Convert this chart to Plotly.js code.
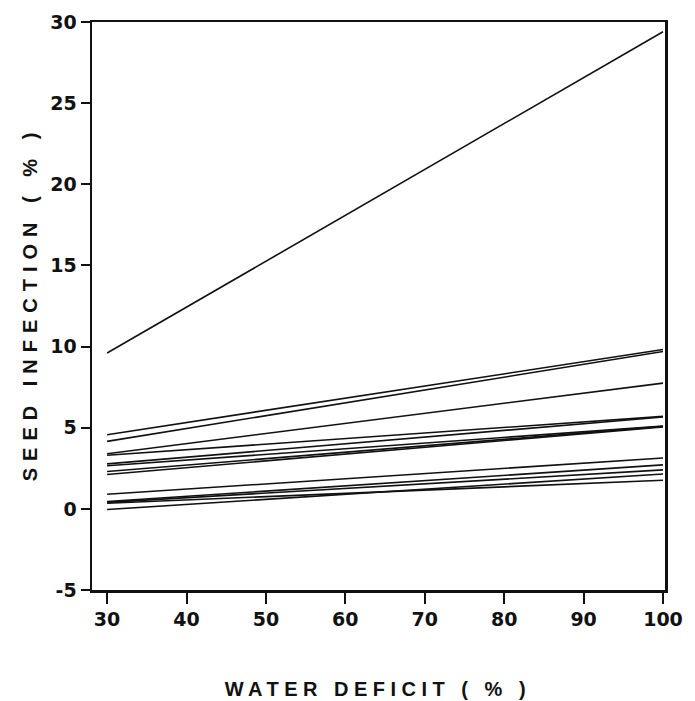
<!DOCTYPE html>
<html>
<head>
<meta charset="utf-8">
<script src="https://cdn.plot.ly/plotly-3.0.1.min.js"></script>
<style>
  html, body { margin: 0; padding: 0; background: #fff; }
  #chart { width: 695px; height: 701px; }
</style>
</head>
<body>
<div id="chart"></div>
<script>
// Water deficit (%) at the two ends of each fitted line
const waterDeficit = [30, 100];
// Seed infection (%) of each fitted line at 30 % water deficit
const infectionAt30 = [9.6, 4.57, 4.16, 3.40, 3.30, 2.77, 2.66, 2.30, 2.12, 0.90, 0.45, 0.40, 0.35, -0.04];
// Seed infection (%) of each fitted line at 100 % water deficit
const infectionAt100 = [29.4, 9.82, 9.70, 7.75, 5.70, 5.66, 5.10, 5.08, 5.05, 3.13, 2.71, 2.40, 1.76, 2.15];
// Axis ticks
const xTicks = [30, 40, 50, 60, 70, 80, 90, 100];
const yTicks = [-5, 0, 5, 10, 15, 20, 25, 30];

const traces = infectionAt30.map((y0, i) => ({
  type: 'scatter',
  mode: 'lines',
  x: waterDeficit,
  y: [y0, infectionAt100[i]],
  line: { color: '#111', width: 1.6 },
  hoverinfo: 'skip',
  showlegend: false
}));

const tickFont = { family: 'DejaVu Sans', size: 19, color: '#111', weight: 'bold' };
const titleFont = { family: 'Liberation Sans', size: 20, color: '#111', weight: 'bold' };

const layout = {
  width: 695,
  height: 701,
  paper_bgcolor: '#fff',
  plot_bgcolor: '#fff',
  margin: { l: 92, r: 30, t: 22, b: 111, pad: 0 },
  showlegend: false,
  xaxis: {
    range: [28.1, 100.25],
    tickvals: xTicks,
    ticktext: xTicks.map(String),
    ticks: 'outside',
    ticklen: 11,
    tickwidth: 2,
    tickcolor: '#111',
    showline: true,
    linewidth: 2.5,
    linecolor: '#111',
    mirror: true,
    showgrid: false,
    zeroline: false,
    tickfont: tickFont,
    fixedrange: true
  },
  yaxis: {
    range: [-5, 30],
    tickvals: yTicks,
    ticktext: yTicks.map(String),
    ticks: 'outside',
    ticklen: 9,
    tickwidth: 2,
    tickcolor: '#111',
    showline: true,
    linewidth: 2.5,
    linecolor: '#111',
    mirror: true,
    showgrid: false,
    zeroline: false,
    tickfont: tickFont,
    fixedrange: true
  },
  annotations: [
    {
      text: 'WATER DEFICIT ( % )',
      xref: 'paper', yref: 'paper',
      x: 0.499, y: -0.175,
      xanchor: 'center', yanchor: 'middle',
      showarrow: false,
      font: titleFont
    },
    {
      text: 'SEED INFECTION ( % )',
      xref: 'paper', yref: 'paper',
      x: -0.108, y: 0.505,
      xanchor: 'center', yanchor: 'middle',
      textangle: -90,
      showarrow: false,
      font: titleFont
    }
  ]
};

Plotly.newPlot('chart', traces, layout, { displayModeBar: false, staticPlot: true }).then(() => {
  const texts = document.querySelectorAll('#chart .annotation-text');
  texts[0].style.letterSpacing = '5.5px';
  texts[1].style.letterSpacing = '7px';
});
</script>
</body>
</html>
